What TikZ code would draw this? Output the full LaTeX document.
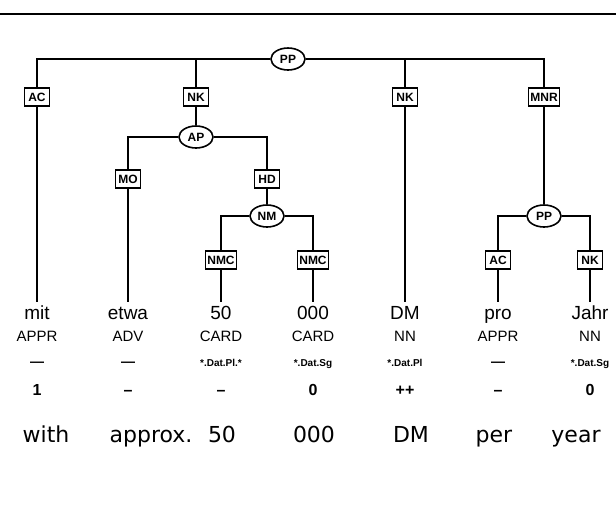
\documentclass[tikz,border=0pt]{standalone}
\usepackage{fontspec}
\setmainfont{Liberation Sans}
\newfontfamily\glossfont{DejaVu Sans}
\usetikzlibrary{positioning, shapes.geometric}
\newcommand{\nomorph}{{\fontsize{14}{14}\selectfont ---}}
\tikzset{
  treeline/.style={line width=1.8pt},
  fnbox/.style={draw, line width=1.6pt, fill=white, font=\fontsize{12}{12}\selectfont\bfseries,
    inner xsep=2pt, inner ysep=1pt, minimum width=25pt, minimum height=18pt},
  catnode/.style={draw, ellipse, line width=1.6pt, fill=white, font=\fontsize{12}{12}\selectfont\bfseries,
    inner sep=0.5pt, minimum width=34pt, minimum height=22pt},
  tok/.style={anchor=base, font=\fontsize{19}{19}\selectfont, text height=14pt, text depth=4pt, inner ysep=3pt},
  postag/.style={anchor=base, font=\fontsize{15}{15}\selectfont},
  morph/.style={anchor=base, font=\fontsize{10}{10}\selectfont\bfseries},
  score/.style={anchor=base, font=\fontsize{16}{16}\selectfont\bfseries},
  gloss/.style={anchor=base, font=\glossfont\fontsize{22}{22}\selectfont}
}
\begin{document}
\begin{tikzpicture}[x=1pt, y=-1pt]
  \useasboundingbox (0,0) rectangle (616,504);
  \draw[line width=2pt] (0,14) -- (616,14);

  \node[catnode] (ppTop) at (288,59) {PP};
  \node[fnbox] (acA) at (37,97) {AC};
  \node[fnbox] (nkA) at (196,97) {NK};
  \node[fnbox] (nkB) at (405,97) {NK};
  \node[fnbox] (mnr) at (544,97) {MNR};
  \node[catnode] (ap) at (196,137) {AP};
  \node[fnbox] (mo) at (128,179) {MO};
  \node[fnbox] (hd) at (267,179) {HD};
  \node[catnode] (nm) at (267,216) {NM};
  \node[fnbox] (nmcA) at (221,260) {NMC};
  \node[fnbox] (nmcB) at (313,260) {NMC};
  \node[catnode] (ppLow) at (544,216) {PP};
  \node[fnbox] (acB) at (498,260) {AC};
  \node[fnbox] (nkC) at (590,260) {NK};

  \node[tok] (mit) at (37,319) {mit};
  \node[tok] (etwa) at (128,319) {etwa};
  \node[tok] (fifty) at (221,319) {50};
  \node[tok] (thous) at (313,319) {000};
  \node[tok] (dm) at (405,319) {DM};
  \node[tok] (pro) at (498,319) {pro};
  \node[tok] (jahr) at (590,319) {Jahr};

  \begin{scope}[treeline]
    \draw (ppTop.west) -| (acA);
    \draw (ppTop.west) -| (nkA);
    \draw (ppTop.east) -| (nkB);
    \draw (ppTop.east) -| (mnr);
    \draw (acA) -- (mit);
    \draw (nkA) -- (ap);
    \draw (ap.west) -| (mo);
    \draw (ap.east) -| (hd);
    \draw (mo) -- (etwa);
    \draw (hd) -- (nm);
    \draw (nm.west) -| (nmcA);
    \draw (nm.east) -| (nmcB);
    \draw (nmcA) -- (fifty);
    \draw (nmcB) -- (thous);
    \draw (nkB) -- (dm);
    \draw (mnr) -- (ppLow);
    \draw (ppLow.west) -| (acB);
    \draw (ppLow.east) -| (nkC);
    \draw (acB) -- (pro);
    \draw (nkC) -- (jahr);
  \end{scope}

  \foreach \x/\p/\m/\s [count=\i] in {37/APPR/\nomorph/1, 128/ADV/\nomorph/--, 221/CARD/*.Dat.Pl.*/--,
      313/CARD/*.Dat.Sg/0, 405/NN/*.Dat.Pl/++, 498/APPR/\nomorph/--, 590/NN/*.Dat.Sg/0}
  {
    \node[postag] (pos\i) at (\x,341) {\p};
    \node[morph] (morph\i) at (\x,366) {\m};
    \node[score] (score\i) at (\x,395) {\s};
  }

  \foreach \x/\e [count=\i] in {46/with, 151/approx., 222/50, 314/000, 411/DM, 494/per, 576/year}
    \node[gloss] (gloss\i) at (\x,442) {\e};
\end{tikzpicture}
\end{document}
